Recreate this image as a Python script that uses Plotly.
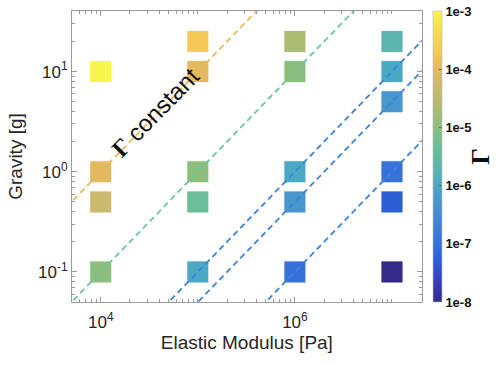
import plotly.graph_objects as go
import numpy as np

# ---- data ----
modulus_pa = [1e4, 1e4, 1e4, 1e4,
              1e5, 1e5, 1e5, 1e5, 1e5,
              1e6, 1e6, 1e6, 1e6, 1e6,
              1e7, 1e7, 1e7, 1e7, 1e7, 1e7]
gravity_g = [10, 1, 0.5, 0.1,
             20, 10, 1, 0.5, 0.1,
             20, 10, 1, 0.5, 0.1,
             20, 10, 5, 1, 0.5, 0.1]
gamma_vals = [1e-3, 1e-4, 5e-5, 1e-5,
              2e-4, 1e-4, 1e-5, 5e-6, 1e-6,
              2e-5, 1e-5, 1e-6, 5e-7, 1e-7,
              2e-6, 1e-6, 5e-7, 1e-7, 5e-8, 1e-8]

line_gammas = [1e-4, 1e-5, 1e-6, 5e-7, 1e-7]
line_colors = ["#e6b95a", "#6ec49c", "#3d82de", "#3d82de", "#3d82de"]
line_modulus = [1e3, 1e8]

cbar_tickvals = [-8, -7, -6, -5, -4, -3]
cbar_ticktext = ["1e-8", "1e-7", "1e-6", "1e-5", "1e-4", "1e-3"]
x_tickvals = [1e4, 1e6]
x_ticktext = ["10<sup>4</sup>", "10<sup>6</sup>"]
y_tickvals = [0.1, 1, 10]
y_ticktext = ["10<sup>-1</sup>", "10<sup>0</sup>", "10<sup>1</sup>"]

colorscale = [
    [0.00, "#342a88"],
    [0.08, "#3842c0"],
    [0.14, "#2c5ed8"],
    [0.20, "#3672d8"],
    [0.34, "#4896cc"],
    [0.40, "#4ba8c3"],
    [0.46, "#5cb5ae"],
    [0.54, "#6cbe96"],
    [0.60, "#8cbf7e"],
    [0.66, "#aabb72"],
    [0.74, "#cbb96e"],
    [0.80, "#e4b85f"],
    [0.86, "#f5c858"],
    [0.93, "#f5dc50"],
    [1.00, "#f8f54a"],
]

font_sans = "Liberation Sans, Arial, Helvetica, sans-serif"
font_serif = "Liberation Serif, Times New Roman, serif"
axis_grey = "#9a9a9a"
text_col = "#262626"

W, H = 497, 365
ML, MR, MT, MB = 72, 72, 10, 63

fig = go.Figure()

fig.add_trace(go.Scatter(
    x=modulus_pa, y=gravity_g, mode="markers",
    marker=dict(
        symbol="square", size=22,
        color=np.log10(gamma_vals), colorscale=colorscale, cmin=-8, cmax=-3,
        line=dict(color="rgba(255,255,255,0.85)", width=1),
        colorbar=dict(
            xref="container", x=433 / W, xanchor="left", xpad=0,
            y=0.5, yanchor="middle", ypad=0,
            len=1, lenmode="fraction", thickness=9,
            outlinewidth=0.6, outlinecolor="#bbbbbb",
            tickmode="array", tickvals=cbar_tickvals, ticktext=cbar_ticktext,
            ticks="inside", ticklen=3, tickcolor="#666666",
            tickfont=dict(family=font_sans, size=13, color="#111111", weight="bold"),
        ),
    ),
    showlegend=False, hoverinfo="skip",
))

for gm, col in zip(line_gammas, line_colors):
    fig.add_trace(go.Scatter(
        x=line_modulus, y=[gm * m for m in line_modulus], mode="lines",
        line=dict(color=col, width=1.8, dash="6px,4px"),
        showlegend=False, hoverinfo="skip",
    ))

axis_common = dict(
    type="log", showgrid=False, zeroline=False,
    showline=True, linecolor=axis_grey, linewidth=1, mirror="allticks",
    ticks="inside", ticklen=5, tickcolor=axis_grey, tickwidth=1,
    tickfont=dict(family=font_sans, size=17, color=text_col),
    minor=dict(ticks="inside", ticklen=3, tickcolor=axis_grey, dtick="D1", showgrid=False),
)

fig.update_layout(
    width=W, height=H,
    margin=dict(l=ML, r=MR, t=MT, b=MB),
    paper_bgcolor="white", plot_bgcolor="white",
    xaxis=dict(axis_common, range=[3.704, 7.306],
               tickmode="array", tickvals=x_tickvals, ticktext=x_ticktext,
               ticklabelstandoff=5,
               title=dict(text="Elastic Modulus [Pa]", standoff=4,
                          font=dict(family=font_sans, size=19, color=text_col))),
    yaxis=dict(axis_common, range=[-1.30, 1.605],
               tickmode="array", tickvals=y_tickvals, ticktext=y_ticktext,
               title=dict(text="Gravity [g]", standoff=10,
                          font=dict(family=font_sans, size=19, color=text_col))),
    annotations=[
        dict(
            x=4.56, y=0.59, xref="x", yref="y",
            text='<span style="font-family:Liberation Serif;font-weight:bold">Γ</span> constant',
            showarrow=False, textangle=-45.6,
            font=dict(family=font_sans, size=24, color="#111111"),
        ),
        dict(
            x=(484 - ML) / (W - ML - MR), y=0.5, xref="paper", yref="paper",
            xanchor="center", yanchor="middle",
            text="<b>Γ</b>", showarrow=False, textangle=-90,
            font=dict(family=font_serif, size=26, color="#111111"),
        ),
    ],
)

fig.write_html("out.html")
